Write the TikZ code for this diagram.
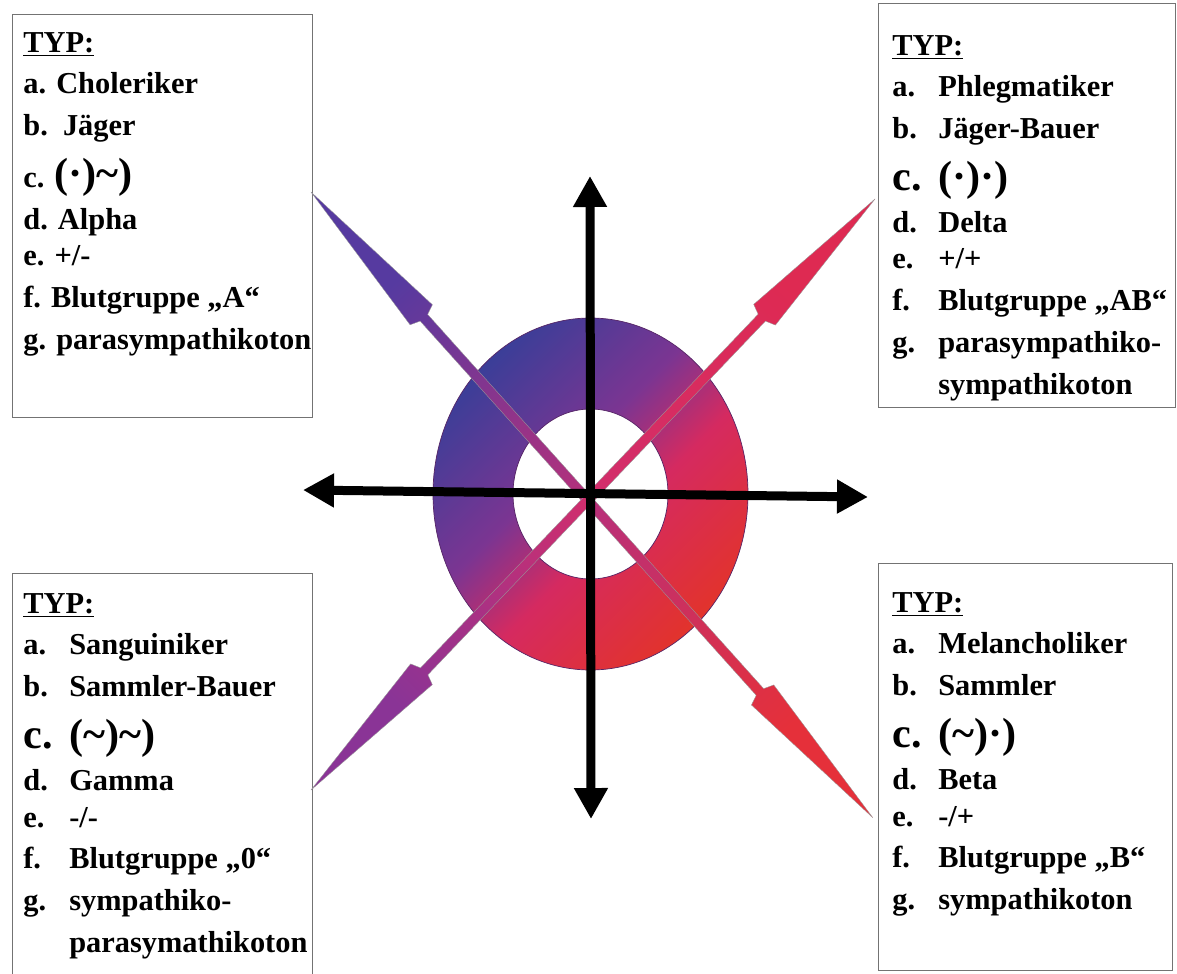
\documentclass[tikz,border=0pt]{standalone}
\usepackage{fontspec}
\setmainfont{Liberation Serif}
\usetikzlibrary{arrows.meta}

\definecolor{ringblau}{HTML}{3B3E98}
\definecolor{ringlila}{HTML}{7B3592}
\definecolor{ringpink}{HTML}{D52A60}
\definecolor{ringrot}{HTML}{E2332C}
\definecolor{spblau}{HTML}{563AA0}
\definecolor{spmitte}{HTML}{B8307A}
\definecolor{sprot}{HTML}{E5303A}
\definecolor{splila}{HTML}{8A3496}
\definecolor{sppink}{HTML}{D22E6C}
\definecolor{sprosa}{HTML}{DE2A52}

\pgfdeclarehorizontalshading{ringverlauf}{100bp}{color(0bp)=(ringblau); color(25bp)=(ringblau); color(44bp)=(ringlila); color(56bp)=(ringpink); color(75bp)=(ringrot); color(100bp)=(ringrot)}
\pgfdeclarehorizontalshading{pfeileins}{100bp}{color(0bp)=(spblau); color(25bp)=(spblau); color(50bp)=(spmitte); color(75bp)=(sprot); color(100bp)=(sprot)}
\pgfdeclarehorizontalshading{pfeilzwei}{100bp}{color(0bp)=(splila); color(25bp)=(splila); color(50bp)=(sppink); color(75bp)=(sprosa); color(100bp)=(sprosa)}

\newcommand{\gross}{\fontsize{24}{24}\selectfont}

\begin{document}
\begin{tikzpicture}[
  x=0.02cm, y=-0.02cm,
  typbox/.style={draw=black!55, line width=0.8pt, rectangle, anchor=north west, inner sep=0pt},
  typtext/.style={anchor=base west, inner sep=0pt, font={\fontsize{17.3}{23.9}\selectfont\bfseries}},
  achse/.style={line width=0.18cm, {Triangle[length=0.62cm,width=0.64cm]}-{Triangle[length=0.62cm,width=0.64cm]}},
  spitze/.style={draw=black!40, line width=0.2pt}]
\useasboundingbox (0,0) rectangle (1177,974);

\coordinate (mitte) at (590.5,494);
\coordinate (nord) at (590,176);
\coordinate (sued) at (591,819);
\coordinate (west) at (303,490);
\coordinate (ost) at (868,497);

% Kaesten
\node[typbox, minimum width=6cm, minimum height=8.06cm] (tl) at (12,14) {};
\node[typbox, minimum width=5.94cm, minimum height=8.08cm] (tr) at (878,3) {};
\node[typbox, minimum width=6cm, minimum height=8.04cm] (bl) at (12,573) {};
\node[typbox, minimum width=5.88cm, minimum height=8.14cm] (br) at (878,563) {};

\node[typtext] (tltext) at (23,52) {\begin{tabular}[t]{@{}l@{}}
\underline{TYP:}\\
a. Choleriker\\
b.~~Jäger\\[5.7pt]
c. {\gross (·)\textasciitilde)}\\
d. Alpha\\[-3.4pt]
e. +/-\\
f. Blutgruppe „A“\\
g. parasympathikoton
\end{tabular}};

\node[typtext] (trtext) at (892,55) {\begin{tabular}[t]{@{}p{0.92cm}@{}l@{}}
\multicolumn{2}{@{}l@{}}{\underline{TYP:}}\\
a. & Phlegmatiker\\
b. & Jäger-Bauer\\[5.7pt]
{\gross c.} & {\gross (·)·)}\\
d. & Delta\\[-3.4pt]
e. & +/+\\
f. & Blutgruppe „AB“\\
g. & parasympathiko-\\
   & sympathikoton
\end{tabular}};

\node[typtext] (bltext) at (23,613) {\begin{tabular}[t]{@{}p{0.92cm}@{}l@{}}
\multicolumn{2}{@{}l@{}}{\underline{TYP:}}\\
a. & Sanguiniker\\
b. & Sammler-Bauer\\[5.7pt]
{\gross c.} & {\gross (\textasciitilde)\textasciitilde)}\\
d. & Gamma\\[-3.4pt]
e. & -/-\\
f. & Blutgruppe „0“\\
g. & sympathiko-\\
   & parasymathikoton
\end{tabular}};

\node[typtext] (brtext) at (892,612) {\begin{tabular}[t]{@{}p{0.92cm}@{}l@{}}
\multicolumn{2}{@{}l@{}}{\underline{TYP:}}\\
a. & Melancholiker\\
b. & Sammler\\[5.7pt]
{\gross c.} & {\gross (\textasciitilde)·)}\\
d. & Beta\\[-3.4pt]
e. & -/+\\
f. & Blutgruppe „B“\\
g. & sympathikoton
\end{tabular}};

% Ring
\shadedraw[shading=ringverlauf, shading angle=-45, even odd rule, draw=ringlila!70!black, line width=0.4pt]
  (mitte) ellipse[x radius=157.5, y radius=176] (mitte) ellipse[x radius=77.5, y radius=85];

% schraege Pfeile
\begin{scope}[shift={(311,192)}, rotate=-48.08]
\shade[spitze, shading=pfeileins, shading angle=-48] (0,0) -- (165,15) -- (169,5) -- (672,5) -- (676,15) -- (841,0)
  -- (676,-15) -- (672,-5) -- (169,-5) -- (165,-15) -- cycle;
\end{scope}
\begin{scope}[shift={(311,790)}, rotate=46.34]
\shade[spitze, shading=pfeilzwei, shading angle=46] (0,0) -- (160,15) -- (164,5) -- (653,5) -- (657,15) -- (817,0)
  -- (657,-15) -- (653,-5) -- (164,-5) -- (160,-15) -- cycle;
\end{scope}

% Achsen
\draw[achse] (west) -- (ost);
\draw[achse] (nord) -- (sued);
\end{tikzpicture}
\end{document}
